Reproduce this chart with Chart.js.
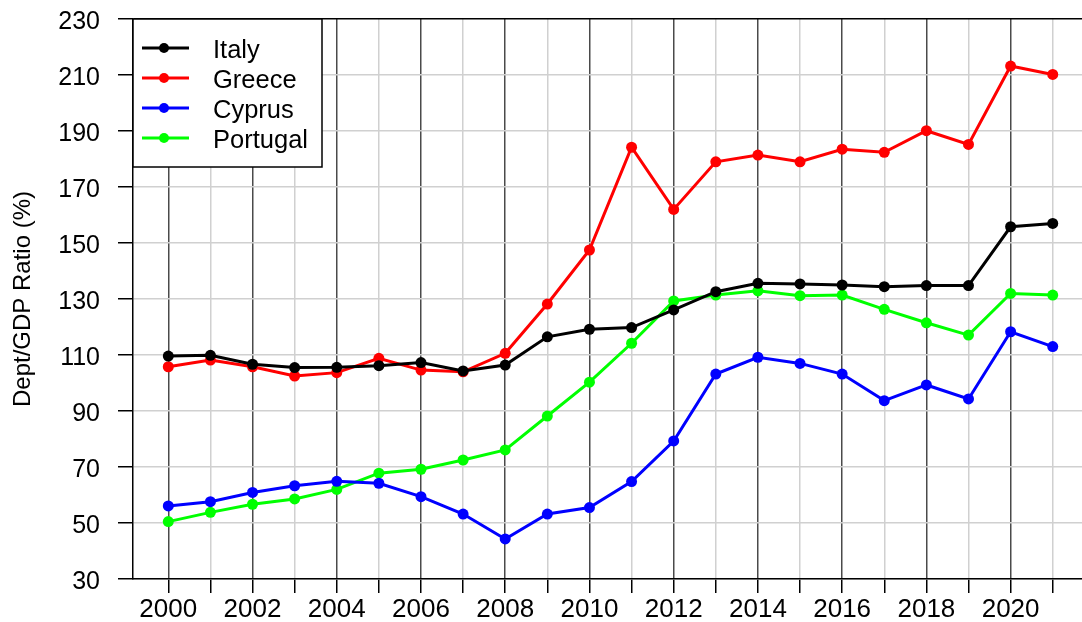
<!DOCTYPE html>
<html>
<head>
<meta charset="utf-8">
<script src="https://cdn.jsdelivr.net/npm/chart.js@4.4.0/dist/chart.umd.min.js"></script>
<style>
  html, body { margin: 0; padding: 0; background: #fff; }
  #wrap { width: 1082px; height: 622px; }
</style>
</head>
<body>
<div id="wrap"><canvas id="myChart" width="1082" height="622"></canvas></div>
<script>
'use strict';

// values
const years = [2000, 2001, 2002, 2003, 2004, 2005, 2006, 2007, 2008, 2009, 2010,
               2011, 2012, 2013, 2014, 2015, 2016, 2017, 2018, 2019, 2020, 2021];
const italy    = [109.6, 109.9, 106.7, 105.5, 105.6, 106.2, 107.3, 104.3, 106.4, 116.5, 119.2,
                  119.8, 126.1, 132.6, 135.6, 135.4, 135.0, 134.4, 134.8, 134.8, 155.8, 157.0];
const greece   = [105.8, 108.2, 105.8, 102.5, 103.7, 108.8, 104.6, 104.0, 110.6, 128.2, 147.5,
                  184.2, 162.0, 179.0, 181.4, 179.0, 183.5, 182.4, 190.1, 185.2, 213.2, 210.2];
const cyprus   = [56.1, 57.6, 60.9, 63.3, 64.9, 64.2, 59.4, 53.2, 44.3, 53.2, 55.5,
                  64.8, 79.3, 103.2, 109.2, 107.0, 103.2, 93.7, 99.3, 94.3, 118.3, 113.0];
const portugal = [50.5, 53.8, 56.7, 58.6, 62.0, 67.8, 69.2, 72.5, 76.1, 88.2, 100.3,
                  114.2, 129.3, 131.4, 132.9, 131.2, 131.4, 126.3, 121.5, 117.1, 132.0, 131.4];
const seriesNames = ['Italy', 'Greece', 'Cyprus', 'Portugal'];
const yTicks = [30, 50, 70, 90, 110, 130, 150, 170, 190, 210, 230];

const FONT = "'Liberation Sans', Arial, sans-serif";
const colors = ['#000000', '#ff0000', '#0000ff', '#00ff00'];

function makeSet(name, vals, i) {
  return {
    label: name,
    data: years.map((y, k) => ({ x: y, y: vals[k] })),
    borderColor: colors[i],
    backgroundColor: colors[i],
    pointBackgroundColor: colors[i],
    pointBorderWidth: 0,
    pointRadius: 5.5,
    borderWidth: 3,
    tension: 0
  };
}

// legend drawn inside the plot, top-left, like the R plot
const legendBox = {
  id: 'legendBox',
  afterDatasetsDraw(chart) {
    const ctx = chart.ctx;
    const x0 = chart.chartArea.left, y0 = chart.chartArea.top;
    ctx.save();
    ctx.fillStyle = '#fff';
    ctx.fillRect(x0, y0, 189, 148);
    ctx.strokeStyle = '#000';
    ctx.lineWidth = 1.5;
    ctx.strokeRect(x0, y0, 189, 148);
    chart.data.datasets.forEach(function (ds, i) {
      let y = y0 + 29 + i * 30;
      ctx.strokeStyle = ds.borderColor;
      ctx.lineWidth = 3;
      ctx.beginPath();
      ctx.moveTo(x0 + 9, y);
      ctx.lineTo(x0 + 56, y);
      ctx.stroke();
      ctx.fillStyle = ds.borderColor;
      ctx.beginPath();
      ctx.arc(x0 + 31, y, 5, 0, Math.PI * 2);
      ctx.fill();
      ctx.fillStyle = '#000';
      ctx.font = '25.5px ' + FONT;
      ctx.textBaseline = 'middle';
      ctx.fillText(ds.label, x0 + 80, y + 3);
    });
    ctx.restore();
  }
};

const marksData = {
  datasets: [
    makeSet(seriesNames[0], italy, 0),
    makeSet(seriesNames[1], greece, 1),
    makeSet(seriesNames[2], cyprus, 2),
    makeSet(seriesNames[3], portugal, 3)
  ]
};

const options = {
  responsive: false,
  devicePixelRatio: 1,
  animation: false,
  layout: { autoPadding: false, padding: { top: 19, left: 0, right: 0, bottom: 0 } },
  plugins: { legend: { display: false }, tooltip: { enabled: false } },
  scales: {
    x: {
      type: 'linear',
      min: 1999.162,
      max: 2021.695,
      afterBuildTicks: function (scale) { scale.ticks = years.map(v => ({ value: v })); },
      afterFit: function (scale) {
        scale.height = 43;
        scale.paddingLeft = 0;
        scale.paddingRight = 0;
      },
      grid: {
        color: ctx => (ctx.tick && ctx.tick.value % 2 === 0) ? '#4a4a4a' : '#d0d0d0',
        lineWidth: 1.5,
        tickColor: '#000',
        tickLength: 14,
        tickWidth: 1.5
      },
      border: { display: true, color: '#000', width: 1.5 },
      ticks: {
        autoSkip: false,
        maxRotation: 0,
        color: '#000',
        padding: 1,
        font: { family: FONT, size: 26 },
        callback: v => (v % 2 === 0 ? String(v) : '')
      }
    },
    y: {
      min: 30,
      max: 230,
      afterBuildTicks: function (scale) { scale.ticks = yTicks.map(v => ({ value: v })); },
      afterFit: function (scale) {
        scale.width = 133;
        scale.paddingTop = 0;
        scale.paddingBottom = 0;
      },
      grid: {
        color: ctx => (ctx.tick && ctx.tick.value === 230) ? '#000' : '#d0d0d0',
        lineWidth: 1.5,
        tickColor: '#000',
        tickLength: 15,
        tickWidth: 1.5
      },
      border: { display: true, color: '#000', width: 1.5 },
      ticks: {
        color: '#000',
        padding: 18,
        labelOffset: 3,
        font: { family: FONT, size: 25 }
      },
      title: {
        display: true,
        text: 'Dept/GDP Ratio (%)',
        color: '#000',
        font: { family: FONT, size: 24 },
        padding: { top: 9, bottom: 0 }
      }
    }
  }
};

new Chart(document.getElementById('myChart'), {
  type: 'line',
  data: marksData,
  options: options,
  plugins: [legendBox]
});
</script>
</body>
</html>
